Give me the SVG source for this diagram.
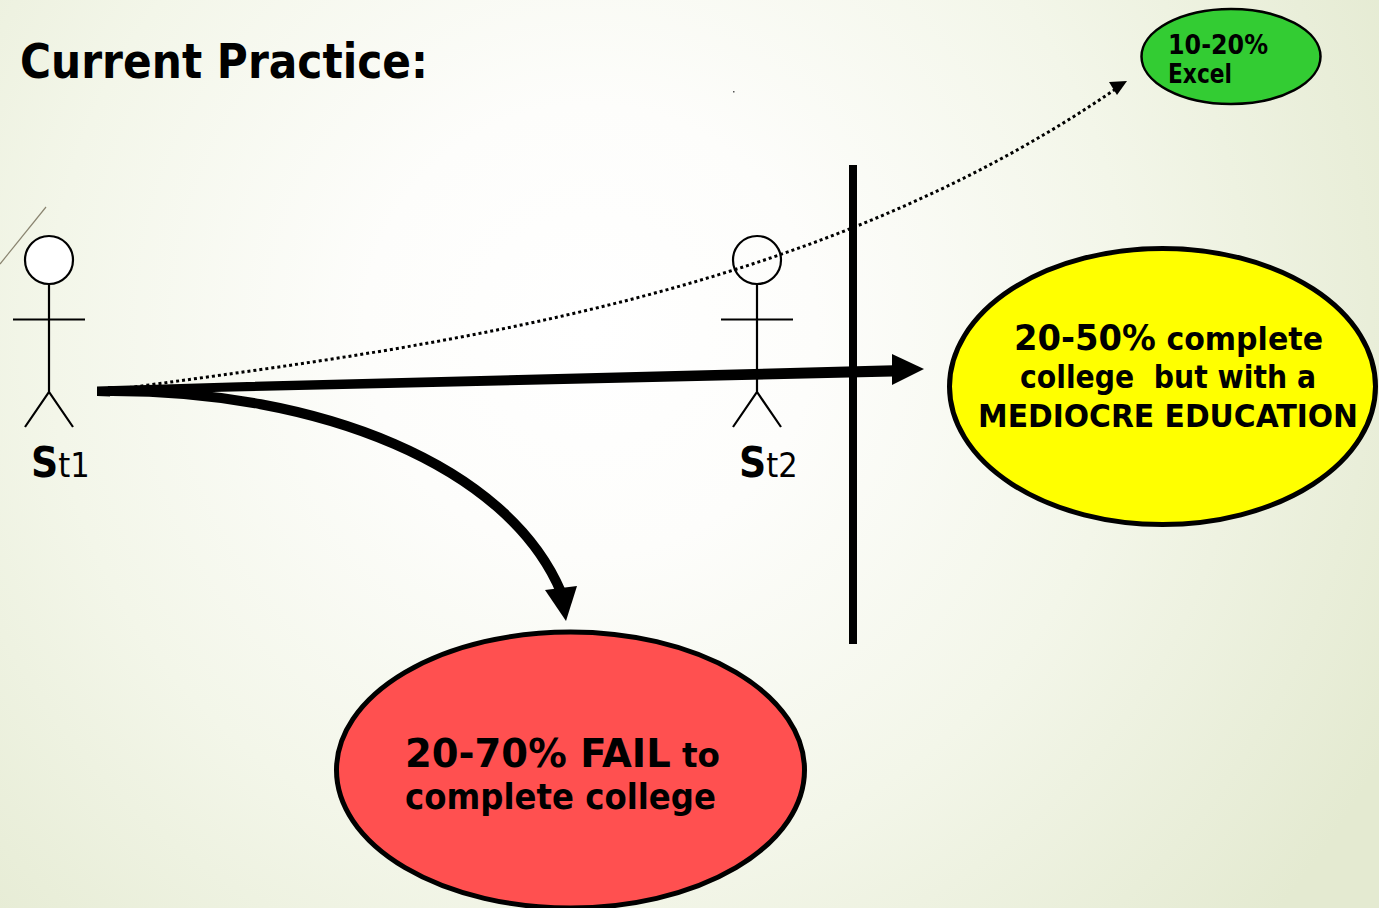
<svg xmlns="http://www.w3.org/2000/svg" width="1379" height="908" viewBox="0 0 1379 908">
<style>
text{font-family:"DejaVu Sans","Liberation Sans",sans-serif;fill:#000}
.b{font-weight:700}
.fig{fill:none;stroke:#000;stroke-width:2.2}
.oval{stroke:#000}
.lab{font-family:"DejaVu Sans Condensed","DejaVu Sans",sans-serif}
</style>
<defs>
<radialGradient id="bg" gradientUnits="userSpaceOnUse" cx="590" cy="330" r="900">
<stop offset="0" stop-color="#ffffff"/><stop offset="0.25" stop-color="#fdfdfb"/><stop offset="0.6" stop-color="#f3f6e9"/><stop offset="1" stop-color="#e4ead1"/>
</radialGradient>
</defs>
<rect width="1379" height="908" fill="url(#bg)"/>
<line x1="0" y1="264" x2="46" y2="207" stroke="#8a8470" stroke-width="1.200"/>
<rect x="733" y="91" width="1.5" height="1.5" fill="#555"/>
<text class="b" x="20" y="78" font-size="48" textLength="408" lengthAdjust="spacingAndGlyphs">Current Practice:</text>
<g id="connectors">
<path d="M105 391C400 350 800 308 1120 86" fill="none" stroke="#000" stroke-width="3" stroke-dasharray="3 3"/>
<path d="M1127 81L1109 82L1117 95Z" fill="#000"/>
<path d="M853 165V644" stroke="#000" stroke-width="8" fill="none"/>
<path d="M97 386.500L222 382.700L893 365.300V376.500L222 391.700L110 395L110 396.500L97 396Z" fill="#000"/>
<path d="M892 354L924 369L892 385Z" fill="#000"/>
<path d="M108 391C320 390 508 466 561 592" fill="none" stroke="#000" stroke-width="10"/>
<path d="M545 590L577 586L566 621Z" fill="#000"/>
</g>
<g id="st1">
<circle cx="49" cy="260" r="24" fill="#fff" stroke="#000" stroke-width="2.200"/>
<path class="fig" d="M49 284V392M13 319.500H85M25 427L49 392L73 427"/>
<text class="lab" x="31" y="477"><tspan class="b" font-size="42">S</tspan><tspan font-size="34">t1</tspan></text>
</g>
<g id="st2">
<circle class="fig" cx="757" cy="260" r="24"/>
<path class="fig" d="M757 284V392M721 319.500H793M733 427L757 392L781 427"/>
<text class="lab" x="739" y="477"><tspan class="b" font-size="42">S</tspan><tspan font-size="34">t2</tspan></text>
</g>
<g id="excel">
<ellipse class="oval" cx="1231" cy="56.500" rx="89.500" ry="47.500" fill="#33cc33" stroke-width="2.500"/>
<text class="b" x="1168" y="54" font-size="26" textLength="100" lengthAdjust="spacingAndGlyphs">10-20%</text>
<text class="b" x="1168" y="83" font-size="26" textLength="64" lengthAdjust="spacingAndGlyphs">Excel</text>
</g>
<g id="mediocre">
<ellipse class="oval" cx="1162.500" cy="386.500" rx="213" ry="138" fill="#ffff00" stroke-width="5"/>
<text class="b" x="1014" y="350" font-size="36" textLength="309" lengthAdjust="spacingAndGlyphs"><tspan>20-50%</tspan><tspan font-size="32"> complete</tspan></text>
<text class="b" x="1020" y="388" font-size="32" textLength="296" lengthAdjust="spacingAndGlyphs" xml:space="preserve">college  but with a</text>
<text class="b" x="978" y="427" font-size="32" textLength="380" lengthAdjust="spacingAndGlyphs">MEDIOCRE EDUCATION</text>
</g>
<g id="fail">
<ellipse class="oval" cx="570.500" cy="770" rx="234" ry="138" fill="#ff5050" stroke-width="5"/>
<text class="b" x="405" y="767" font-size="39" textLength="315" lengthAdjust="spacingAndGlyphs"><tspan>20-70% FAIL</tspan><tspan font-size="33"> to</tspan></text>
<text class="b" x="405" y="809" font-size="35" textLength="311" lengthAdjust="spacingAndGlyphs">complete college</text>
</g>
</svg>
